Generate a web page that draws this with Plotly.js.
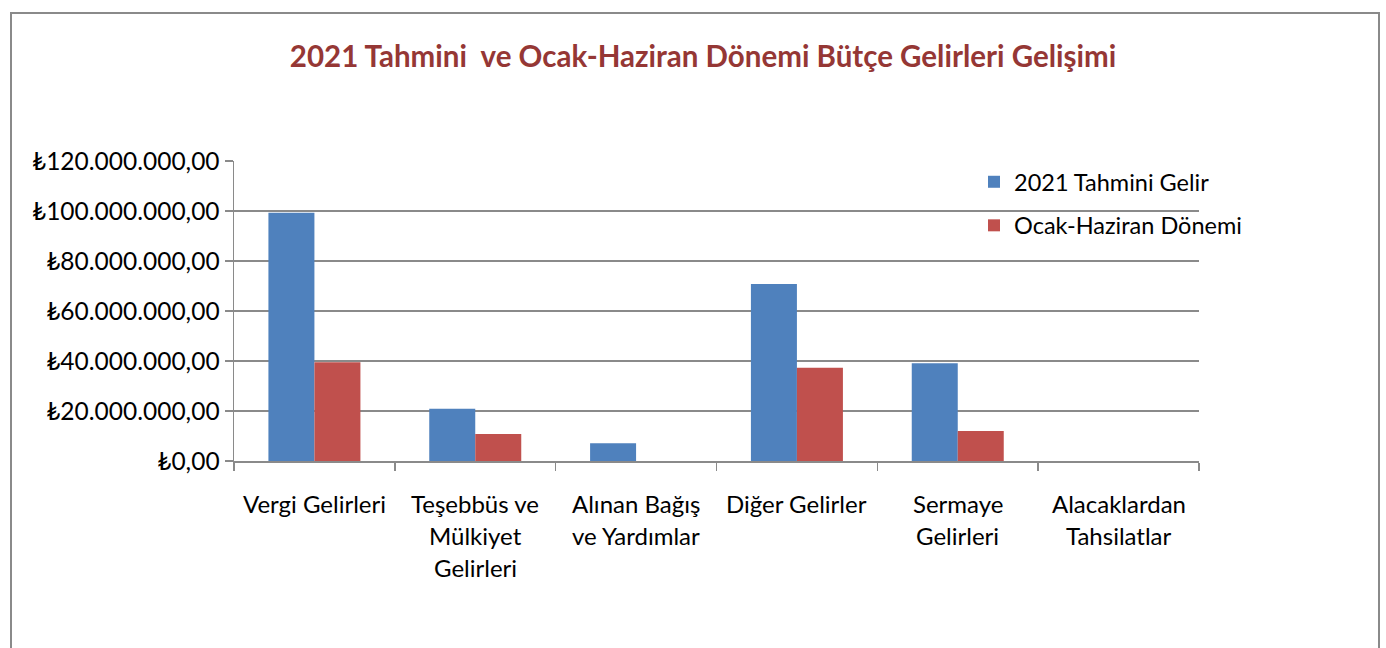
<!DOCTYPE html>
<html>
<head>
<meta charset="utf-8">
<script src="https://cdn.plot.ly/plotly-3.0.1.min.js"></script>
<style>
  html, body { margin: 0; padding: 0; background: #fff; }
  #wrap { position: relative; width: 1386px; height: 648px; overflow: hidden; }
  #chart { position: absolute; left: 0; top: 0; width: 1386px; height: 648px; }
  #frame { position: absolute; left: 10px; top: 12px; width: 1366px; height: 660px;
           border: 2px solid #8a8a8a; pointer-events: none; }
</style>
</head>
<body>
<div id="wrap">
  <div id="chart"></div>
  <div id="frame"></div>
</div>
<script>
const categories = [
  "Vergi Gelirleri",
  "Teşebbüs ve Mülkiyet Gelirleri",
  "Alınan Bağış ve Yardımlar",
  "Diğer Gelirler",
  "Sermaye Gelirleri",
  "Alacaklardan Tahsilatlar"
];
const labelLines = [
  ["Vergi Gelirleri"],
  ["Teşebbüs ve", "Mülkiyet", "Gelirleri"],
  ["Alınan Bağış", "ve Yardımlar"],
  ["Diğer Gelirler"],
  ["Sermaye", "Gelirleri"],
  ["Alacaklardan", "Tahsilatlar"]
];
const seriesNames = ["2021 Tahmini Gelir", "Ocak-Haziran Dönemi"];
const tahminiGelir = [99300000, 20900000, 7100000, 70800000, 39100000, 0];
const ocakHaziran = [39500000, 10800000, 0, 37300000, 12000000, 0];
const yTickVals = [0, 20000000, 40000000, 60000000, 80000000, 100000000, 120000000];
const yTickText = ["₺0,00", "₺20.000.000,00", "₺40.000.000,00", "₺60.000.000,00",
                   "₺80.000.000,00", "₺100.000.000,00", "₺120.000.000,00"];
const titleText = "2021 Tahmini \u00a0ve Ocak-Haziran Dönemi Bütçe Gelirleri Gelişimi";

const FONT = "Lato, Carlito, Calibri, 'Open Sans', sans-serif";
const GRID = "#8a8a8a";

const traces = [
  {
    type: "bar", name: seriesNames[0], x: categories, y: tahminiGelir,
    marker: { color: "#4F81BD", line: { width: 0 } },
    legendgroup: "a", hoverinfo: "skip"
  },
  {
    type: "bar", name: seriesNames[1], x: categories, y: ocakHaziran,
    marker: { color: "#C0504D", line: { width: 0 } },
    legendgroup: "b", hoverinfo: "skip"
  }
];

const annotations = [];
labelLines.forEach((lines, i) => {
  lines.forEach((line, j) => {
    annotations.push({
      xref: "x", yref: "paper", x: categories[i], y: 0,
      yanchor: "middle", xanchor: "center",
      yshift: -42 - 32 * j,
      text: line, showarrow: false,
      font: { family: FONT, size: 24, color: "#000" }
    });
  });
});

const layout = {
  width: 1386, height: 648,
  margin: { l: 234, r: 187, t: 161, b: 187, pad: 0 },
  paper_bgcolor: "#fff", plot_bgcolor: "#fff",
  font: { family: FONT, size: 23, color: "#000" },
  title: {
    text: titleText,
    font: { family: FONT, size: 29.5, color: "#953735", weight: "bold" },
    x: 703 / 1386, xanchor: "center", xref: "container",
    y: 1 - 57 / 648, yanchor: "middle", yref: "container"
  },
  barmode: "group",
  bargap: 0.428,
  bargroupgap: 0,
  xaxis: {
    type: "category",
    showticklabels: false,
    ticks: "outside", tickson: "boundaries", ticklen: 8, tickwidth: 1.5, tickcolor: GRID,
    showline: true, linecolor: GRID, linewidth: 1.5,
    showgrid: false, zeroline: false, fixedrange: true
  },
  yaxis: {
    range: [0, 120000000],
    tickmode: "array", tickvals: yTickVals, ticktext: yTickText,
    ticks: "outside", ticklen: 8, tickwidth: 1.5, tickcolor: GRID,
    ticklabelstandoff: 0,
    tickfont: { family: FONT, size: 24.5, color: "#000" },
    showline: true, linecolor: GRID, linewidth: 1.5,
    showgrid: true, gridcolor: GRID, gridwidth: 1.5,
    zeroline: false, fixedrange: true
  },
  showlegend: true,
  legend: {
    x: (974 - 234) / 965, xanchor: "left",
    y: 1 - (160 - 161) / 300, yanchor: "top",
    font: { family: FONT, size: 23.5, color: "#000" },
    bgcolor: "rgba(0,0,0,0)",
    traceorder: "grouped", tracegroupgap: 10,
    itemwidth: 30
  },
  annotations: annotations
};

Plotly.newPlot("chart", traces, layout, { staticPlot: true, displayModeBar: false });
</script>
</body>
</html>
